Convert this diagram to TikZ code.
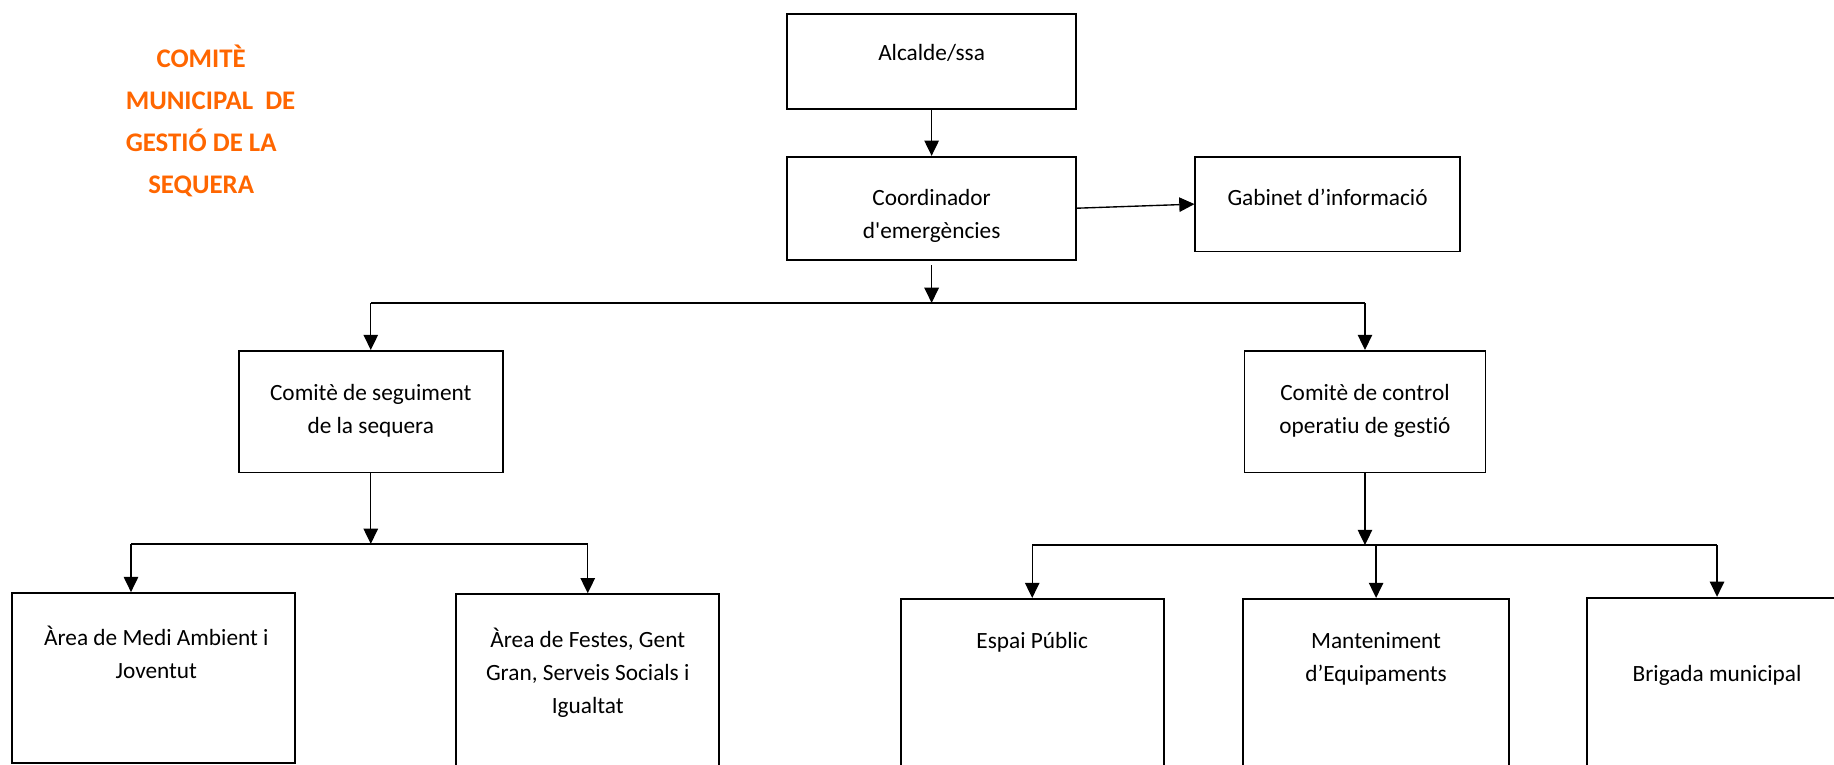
\documentclass[tikz,border=0pt]{standalone}
\usepackage{fontspec}
\setmainfont{Carlito}[Ligatures=NoCommon]
\usetikzlibrary{arrows.meta,positioning}
\definecolor{titleorange}{HTML}{FF6600}
\tikzset{
  orgbox/.style={draw, line width=1.3pt, inner sep=0pt},
  boxtext/.style={align=center, inner sep=0pt, font=\fontsize{17}{24}\selectfont},
  heading/.style={align=center, inner sep=0pt, text=titleorange,
    font=\bfseries\fontsize{19.6}{30.7}\selectfont},
  link/.style={line width=1pt, -{Triangle[length=0.39cm,width=0.37cm]}},
  bus/.style={line width=1.6pt},
}

\begin{document}
\begin{tikzpicture}
  \useasboundingbox (0,0) rectangle (47.04,-19.62);
  % title
  \node[heading] (title) at (5.16,-3.11) {COMITÈ\\\hspace*{0.48cm}MUNICIPAL\ \ DE\\GESTIÓ DE LA\\SEQUERA};

  % boxes
  \node[orgbox, minimum width=7.41cm, minimum height=2.43cm] (alcalde) at (23.895,-1.575) {};
  \node[orgbox, minimum width=7.41cm, minimum height=2.64cm] (coord) at (23.895,-5.34) {};
  \node[orgbox, minimum width=6.78cm, minimum height=2.43cm] (gabinet) at (34.05,-5.235) {};
  \node[orgbox, minimum width=6.78cm, minimum height=3.12cm] (seguiment) at (9.51,-10.56) {};
  \node[orgbox, minimum width=6.18cm, minimum height=3.12cm] (control) at (35.01,-10.56) {};
  \node[orgbox, minimum width=7.26cm, minimum height=4.35cm] (medi) at (3.93,-17.385) {};
  \node[orgbox, minimum width=6.75cm, minimum height=4.86cm] (festes) at (15.075,-17.67) {};
  \node[orgbox, minimum width=6.75cm, minimum height=4.74cm] (espai) at (26.475,-17.73) {};
  \node[orgbox, minimum width=6.81cm, minimum height=4.74cm] (manten) at (35.295,-17.73) {};
  \node[orgbox, minimum width=6.66cm, minimum height=4.77cm] (brigada) at (44.04,-17.715) {};

  % texts
  \node[boxtext, below=0.62cm of alcalde.north] (alcalde-t) {\strut Alcalde/ssa};
  \node[boxtext, below=0.68cm of coord.north] (coord-t) {\strut Coordinador\\d\textquotesingle emergències};
  \node[boxtext, below=0.68cm of gabinet.north] (gabinet-t) {\strut Gabinet d’informació};
  \node[boxtext, below=0.71cm of seguiment.north] (seguiment-t) {\strut Comitè de seguiment\\de la sequera};
  \node[boxtext, below=0.71cm of control.north] (control-t) {\strut Comitè de control\\operatiu de gestió};
  \node[boxtext, below=0.77cm of medi.north, xshift=0.08cm] (medi-t) {\strut Àrea de Medi Ambient i\\Joventut};
  \node[boxtext, below=0.80cm of festes.north] (festes-t) {\strut Àrea de Festes, Gent\\Gran, Serveis Socials i\\Igualtat};
  \node[boxtext, below=0.71cm of espai.north] (espai-t) {\strut Espai Públic};
  \node[boxtext, below=0.71cm of manten.north] (manten-t) {\strut Manteniment\\d’Equipaments};
  \node[boxtext, below=1.58cm of brigada.north] (brigada-t) {\strut Brigada municipal};

  % connectors
  \draw[link] (alcalde) -- (coord);
  \draw[link] (coord.east) -- (gabinet.west);

  \coordinate (topbus) at (23.895,-7.77);
  \draw[link] ([yshift=-0.12cm]coord.south) -- (topbus);
  \draw[bus] (seguiment.north |- topbus) -- (control.north |- topbus);
  \draw[link] (seguiment.north |- topbus) -- (seguiment.north);
  \draw[link] (control.north |- topbus) -- (control.north);

  \coordinate (leftbus) at (9.42,-13.95);
  \coordinate (medi-in) at ([xshift=-0.57cm]medi.north);
  \draw[link] (seguiment.south) -- (seguiment.south |- leftbus);
  \draw[bus] (medi-in |- leftbus) -- (festes.north |- leftbus);
  \draw[link] (medi-in |- leftbus) -- (medi-in);
  \draw[link] (festes.north |- leftbus) -- (festes.north);

  \coordinate (rightbus) at (35.19,-13.98);
  \draw[link] (control.south) -- (control.south |- rightbus);
  \draw[bus] (espai.north |- rightbus) -- (brigada.north |- rightbus);
  \draw[link] (espai.north |- rightbus) -- (espai.north);
  \draw[link] (manten.north |- rightbus) -- (manten.north);
  \draw[link] (brigada.north |- rightbus) -- (brigada.north);
\end{tikzpicture}
\end{document}
